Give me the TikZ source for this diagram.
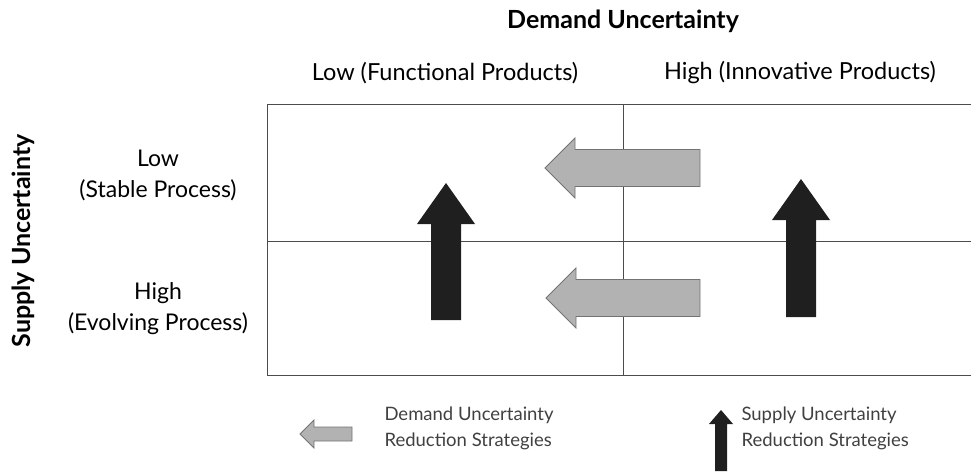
\documentclass[tikz,border=0pt]{standalone}
\usepackage{fontspec}
\setmainfont{Lato}
\tikzset{
        grid line/.style={draw=black!70, line width=0.9pt},
        heading/.style={font=\bfseries\fontsize{25}{28}\selectfont},
        colhead/.style={font=\fontsize{23.5}{28}\selectfont},
        rowhead/.style={font=\fontsize{23}{31}\selectfont, align=center},
        legend/.style={font=\fontsize{18.5}{26}\selectfont, align=left, anchor=west, text=black!75},
        demandarr/.style={fill=black!30, draw=black!55, line width=0.8pt},
        supplyarr/.style={fill=black!88}
          }
% left pointing arrow: tip x, tail x, centre y, half shaft, half head, head length
\newcommand{\leftarrowshape}[6]{%
  \filldraw[demandarr] (#1,#3) -- (#1+#6,#3-#5) -- (#1+#6,#3-#4) -- (#2,#3-#4)
    -- (#2,#3+#4) -- (#1+#6,#3+#4) -- (#1+#6,#3+#5) -- cycle;}
% up pointing arrow: centre x, tip y, bottom y, half shaft, half head, head length
\newcommand{\uparrowshape}[6]{%
  \fill[supplyarr] (#1,#2) -- (#1+#5,#2+#6) -- (#1+#4,#2+#6) -- (#1+#4,#3)
    -- (#1-#4,#3) -- (#1-#4,#2+#6) -- (#1-#5,#2+#6) -- cycle;}

\begin{document}
\begin{tikzpicture}[x=1pt, y=-1pt]
        \useasboundingbox (0,0) rectangle (971,471);

        % axis titles
        \node[heading] (demand) at (623,21) {Demand Uncertainty};
        \node[heading, rotate=90] (supply) at (23,241) {Supply Uncertainty};

        % column and row headings
        \node[colhead] (lowcol) at (445,73) {Low (Functional Products)};
        \node[colhead] (highcol) at (800,73) {High (Innovative Products)};
        \node[rowhead] (lowrow) at (158,175) {Low\\(Stable Process)};
        \node[rowhead] (highrow) at (158,309) {High\\(Evolving Process)};

        % the grid
        \coordinate (tl) at (267,104);
        \coordinate (ml) at (267,241);
        \coordinate (bl) at (267,375);
        \coordinate (tm) at (623,104);
        \coordinate (bm) at (623,375);
        \coordinate (tr) at (971,104);
        \coordinate (mr) at (971,241);
        \coordinate (br) at (971,375);
        \draw[grid line] (tr) -- (tl) -- (bl) -- (br);
        \draw[grid line] (ml) -- (mr);
        \draw[grid line] (tm) -- (bm);

        % strategy arrows
        \uparrowshape{446}{183}{320}{15}{29}{41}
        \uparrowshape{801}{179}{317}{15}{29}{41}
        \leftarrowshape{545}{700}{168}{18.5}{30}{30}
        \leftarrowshape{546}{700}{298}{18.5}{30}{30}

        % legend
        \leftarrowshape{300}{352}{434}{7}{14}{14}
        \node[legend] (demandkey) at (381,428) {Demand Uncertainty\\Reduction Strategies};
        \uparrowshape{721}{410}{471}{6}{12}{14}
        \node[legend] (supplykey) at (738,428) {Supply Uncertainty\\Reduction Strategies};
\end{tikzpicture}
\end{document}
